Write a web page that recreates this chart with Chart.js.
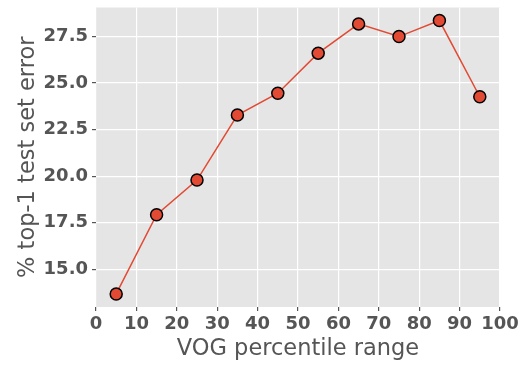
<!DOCTYPE html>
<html>
<head>
<meta charset="utf-8">
<script src="https://cdn.jsdelivr.net/npm/chart.js@4"></script>
<style>
  html, body { margin: 0; padding: 0; background: #fff; }
  #wrap { width: 526px; height: 365px; }
</style>
</head>
<body>
<div id="wrap"><canvas id="vogChart" width="526" height="365"></canvas></div>
<script>
// percentile bin centres and the error measured in each bin
var percentiles = [5, 15, 25, 35, 45, 55, 65, 75, 85, 95];
var top1Error = [13.68, 17.93, 19.79, 23.28, 24.45, 26.60, 28.17, 27.49, 28.35, 24.26];
var xTicks = [0, 10, 20, 30, 40, 50, 60, 70, 80, 90, 100];
var yTicks = [15.0, 17.5, 20.0, 22.5, 25.0, 27.5];

var red = '#E24A33';
var grey = '#555555';

// gray panel behind the plot, ggplot style
var panelBg = {
    id: 'panelBg',
    beforeDraw: function(chart) {
        var a = chart.chartArea;
        var ctx = chart.ctx;
        ctx.save();
        ctx.fillStyle = '#E5E5E5';
        ctx.fillRect(a.left, a.top, a.right - a.left, a.bottom - a.top);
        ctx.restore();
    }
};

var myChart = new Chart(document.getElementById('vogChart'), {
    type: 'line',
    data: {
        datasets: [{
            data: percentiles.map(function(p, i) { return {x: p, y: top1Error[i]}; }),
            borderColor: red,
            borderWidth: 1.5,
            backgroundColor: red,
            pointBackgroundColor: red,
            pointBorderColor: '#000',
            pointBorderWidth: 1.5,
            pointRadius: 6,
            tension: 0
        }]
    },
    options: {
        responsive: false,
        animation: false,
        layout: { padding: { top: 6, right: 26, left: 15, bottom: 0 } },
        plugins: { legend: { display: false }, tooltip: { enabled: false } },
        scales: {
            x: {
                type: 'linear',
                min: 0,
                max: 100,
                afterBuildTicks: function(s) { s.ticks = xTicks.map(function(v) { return {value: v}; }); },
                afterFit: function(s) { s.height = 58; s.paddingLeft = 0; s.paddingRight = 0; },
                border: { display: false },
                grid: { color: '#fff', lineWidth: 1.2, tickColor: grey, tickLength: 4 },
                ticks: {
                    color: grey,
                    padding: 3,
                    autoSkip: false,
                    maxRotation: 0,
                    font: { family: 'DejaVu Sans', size: 18, weight: 'bold' }
                },
                title: {
                    display: true,
                    text: 'VOG percentile range',
                    color: grey,
                    padding: { top: 0, bottom: 2 },
                    font: { family: 'DejaVu Sans', size: 22.5 }
                }
            },
            y: {
                min: 12.98,
                max: 29.05,
                afterBuildTicks: function(s) { s.ticks = yTicks.map(function(v) { return {value: v}; }); },
                afterFit: function(s) { s.width = 81; s.paddingTop = 0; s.paddingBottom = 0; },
                border: { display: false },
                grid: { color: '#fff', lineWidth: 1.2, tickColor: grey, tickLength: 4 },
                ticks: {
                    color: grey,
                    padding: 4,
                    callback: function(v) { return v.toFixed(1); },
                    font: { family: 'DejaVu Sans', size: 18, weight: 'bold' }
                },
                title: {
                    display: true,
                    text: '% top-1 test set error',
                    color: grey,
                    padding: { top: 0, bottom: 2 },
                    font: { family: 'DejaVu Sans', size: 22.5 }
                }
            }
        }
    },
    plugins: [panelBg]
});
</script>
</body>
</html>
